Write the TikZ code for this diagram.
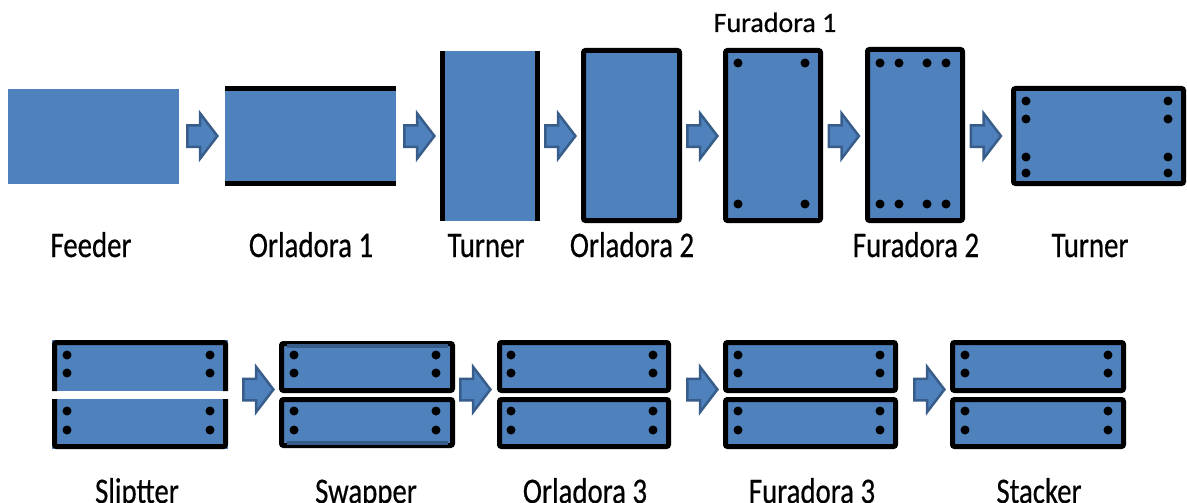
\documentclass[tikz,border=0pt]{standalone}
\usepackage{fontspec}
\usepackage{graphicx}
\setmainfont{Carlito}
\newfontfamily\labelfont{Carlito}[UprightFeatures={FakeBold=0.6}]
\usetikzlibrary{calc}
\definecolor{panel}{HTML}{4F81BD}
\definecolor{paneledge}{HTML}{385D8A}
\begin{document}
\begin{tikzpicture}[x=1pt,y=-1pt,
  bare/.style={fill=panel, draw=none, inner sep=0pt, outer sep=0pt},
  plate/.style={fill=panel, draw=black, line width=5pt, rounded corners=2pt, inner sep=0pt, outer sep=0pt},
  rim/.style={draw=black, line width=5pt},
  softrim/.style={draw=paneledge, line width=4pt},
  hole/.style={fill=black},
  flow/.style={fill=panel, draw=paneledge, line width=2.5pt, line join=miter},
  lbl/.style={inner sep=0pt, anchor=base, font=\labelfont\fontsize{36}{36}\selectfont},
  flowarrow/.pic={\draw[flow] (-15.25,-10.75) -- (-2.5,-10.75) -- (-2.5,-22.75) -- (14.9,0) -- (-2.5,22.75) -- (-2.5,10.75) -- (-15.25,10.75) -- cycle;}
]
\useasboundingbox (0,0) rectangle (1187,503);

% ---------- upper line ----------
\node[bare, minimum width=171pt, minimum height=95pt] (feeder) at (93.5,136.5) {};

\node[bare, minimum width=171pt, minimum height=100pt] (orlA) at (310.5,136) {};
\draw[rim] ([yshift=-2.5pt]orlA.north west) -- ([yshift=-2.5pt]orlA.north east);
\draw[rim] ([yshift=2.5pt]orlA.south west) -- ([yshift=2.5pt]orlA.south east);

\node[bare, minimum width=100pt, minimum height=170pt] (turnA) at (490,136) {};
\draw[rim] ([xshift=2.5pt]turnA.north west) -- ([xshift=2.5pt]turnA.south west);
\draw[rim] ([xshift=-2.5pt]turnA.north east) -- ([xshift=-2.5pt]turnA.south east);

\node[plate, minimum width=96pt, minimum height=170pt] (orlB) at (631.5,135.5) {};

\node[plate, minimum width=95pt, minimum height=170pt] (furA) at (773,135.5) {};
\foreach \hx in {738,805} \foreach \hy in {63,204} \fill[hole] (\hx,\hy) circle (4.5pt);

\node[plate, minimum width=95pt, minimum height=171pt] (furB) at (915,135) {};
\foreach \hx in {880,899,927,946} \foreach \hy in {63,204} \fill[hole] (\hx,\hy) circle (4.5pt);

\node[plate, minimum width=170pt, minimum height=95pt] (turnB) at (1098.5,136) {};
\foreach \hx in {1026,1168} \foreach \hy in {101,119,157,173} \fill[hole] (\hx,\hy) circle (4.5pt);

\foreach \ax in {202.5,419.5,560.5,702.5,844,986} \pic at (\ax,136) {flowarrow};

\node[lbl] (tFeeder) at (91,257) {\scalebox{0.8}[1]{Feeder}};
\node[lbl] (tOrlA) at (311,257) {\scalebox{0.8}[1]{Orladora 1}};
\node[lbl] (tTurnA) at (486,257) {\scalebox{0.8}[1]{Turner}};
\node[lbl] (tOrlB) at (632,257) {\scalebox{0.8}[1]{Orladora 2}};
\node[inner sep=0pt, anchor=base, font=\labelfont\fontsize{28}{28}\selectfont] (tFurA) at (775,32) {Furadora 1};
\node[lbl] (tFurB) at (916,257) {\scalebox{0.8}[1]{Furadora 2}};
\node[lbl] (tTurnB) at (1090,257) {\scalebox{0.8}[1]{Turner}};

% ---------- lower line ----------
% slitter: the sheet is cut into two strips
\node[bare, minimum width=176pt, minimum height=51pt] (slitA) at (140,365.5) {};
\node[bare, minimum width=176pt, minimum height=50pt] (slitB) at (140,424) {};
\draw[rim, rounded corners=2pt] ([xshift=2.5pt]slitA.south west) -- ([xshift=2.5pt,yshift=-2.5pt]slitA.north west) -- ([xshift=-2.5pt,yshift=-2.5pt]slitA.north east) -- ([xshift=-2.5pt]slitA.south east);
\draw[rim, rounded corners=2pt] ([xshift=2.5pt]slitB.north west) -- ([xshift=2.5pt,yshift=2.5pt]slitB.south west) -- ([xshift=-2.5pt,yshift=2.5pt]slitB.south east) -- ([xshift=-2.5pt]slitB.north east);
\foreach \hx in {67,210} \foreach \hy in {355,373,411,430} \fill[hole] (\hx,\hy) circle (4.5pt);

% swapper
\node[plate, minimum width=171pt, minimum height=47pt] (swapA) at (367,367) {};
\node[plate, minimum width=171pt, minimum height=46pt] (swapB) at (367,422.5) {};
\draw[softrim] ([xshift=5pt,yshift=-2.5pt]swapA.north west) -- ([xshift=-5pt,yshift=-2.5pt]swapA.north east);
\draw[softrim] ([xshift=5pt,yshift=2.5pt]swapB.south west) -- ([xshift=-5pt,yshift=2.5pt]swapB.south east);
\foreach \hx in {294,436} \foreach \hy in {355,373,411,430} \fill[hole] (\hx,\hy) circle (4.5pt);

% orladora 3
\node[plate, minimum width=169pt, minimum height=48pt] (orlCA) at (584,366.5) {};
\node[plate, minimum width=169pt, minimum height=47pt] (orlCB) at (584,423) {};
\foreach \hx in {511,653} \foreach \hy in {355,373,411,430} \fill[hole] (\hx,\hy) circle (4.5pt);

% furadora 3
\node[plate, minimum width=170pt, minimum height=48pt] (furCA) at (810.5,366.5) {};
\node[plate, minimum width=170pt, minimum height=47pt] (furCB) at (810.5,423) {};
\foreach \hx in {738,880} \foreach \hy in {355,373,411,430} \fill[hole] (\hx,\hy) circle (4.5pt);

% stacker
\node[plate, minimum width=171pt, minimum height=48pt] (stackA) at (1038,366.5) {};
\node[plate, minimum width=171pt, minimum height=47pt] (stackB) at (1038,423) {};
\foreach \hx in {965,1108} \foreach \hy in {355,373,411,430} \fill[hole] (\hx,\hy) circle (4.5pt);

\foreach \ax in {258.5,475.5,702.5,929.5} \pic at (\ax,389.5) {flowarrow};

\node[lbl] (tSlit) at (137,503) {\scalebox{0.8}[1]{Sliptter}};
\node[lbl] (tSwap) at (366,503) {\scalebox{0.8}[1]{Swapper}};
\node[lbl] (tOrlC) at (585,503) {\scalebox{0.8}[1]{Orladora 3}};
\node[lbl] (tFurC) at (812,503) {\scalebox{0.8}[1]{Furadora 3}};
\node[lbl] (tStack) at (1039,503) {\scalebox{0.8}[1]{Stacker}};
\end{tikzpicture}
\end{document}
